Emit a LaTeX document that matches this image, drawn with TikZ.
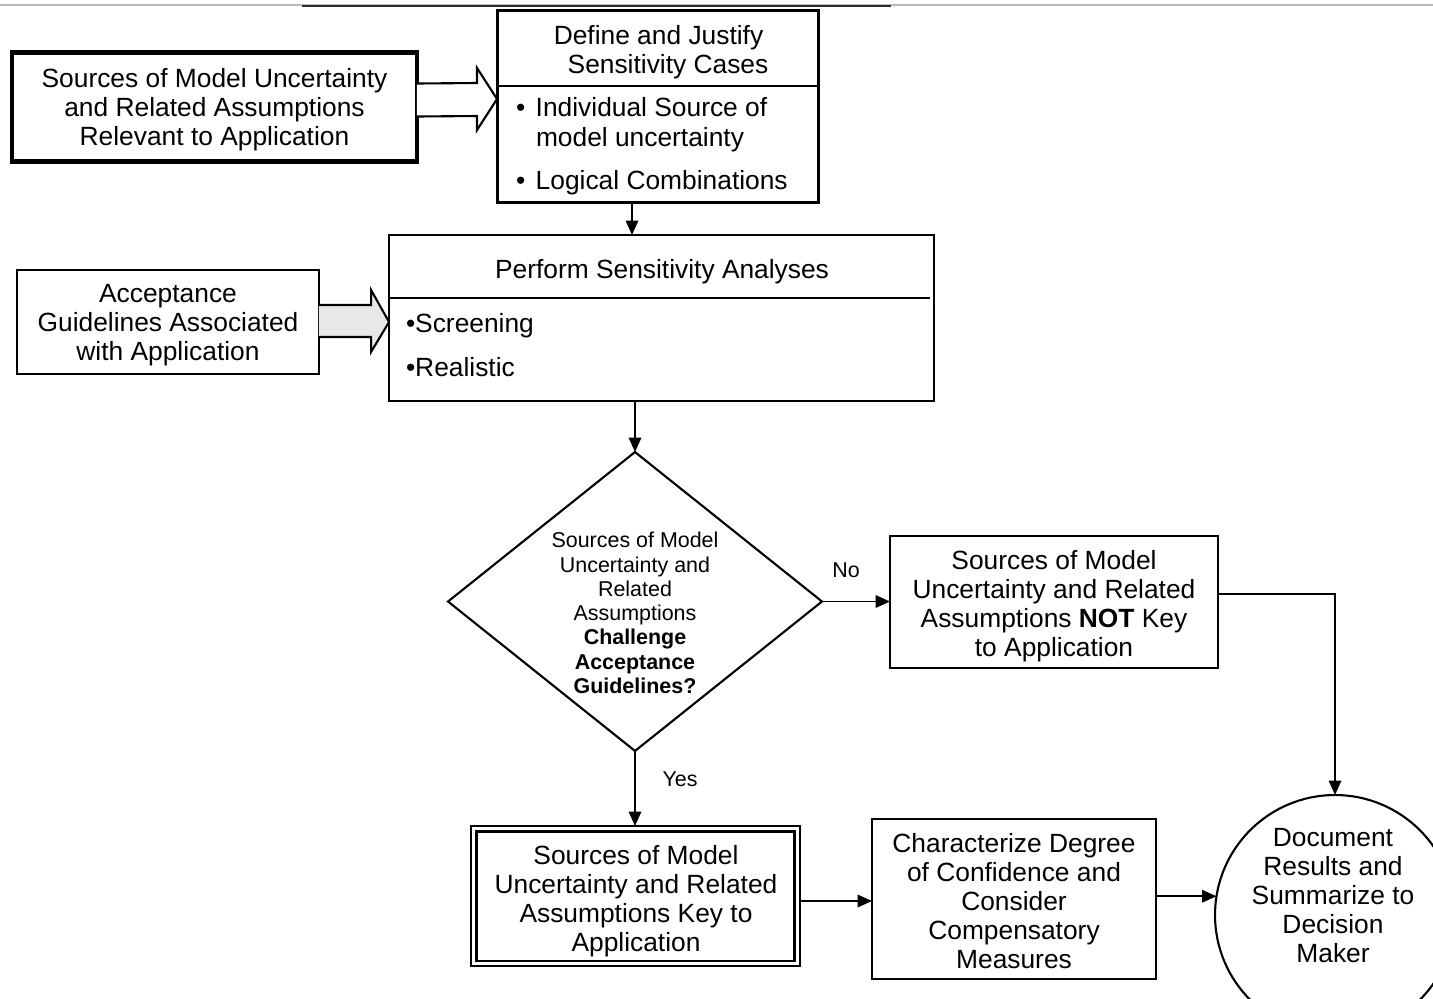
\documentclass[tikz,border=0pt]{standalone}
\usepackage{fontspec}
\setmainfont{Liberation Sans}
\usetikzlibrary{shapes.geometric,arrows.meta,calc}
\begin{document}
\begin{tikzpicture}[x=0.02cm,y=-0.02cm,
  every node/.style={inner sep=0pt, outer sep=0pt},
  txt/.style={font=\fontsize{15}{16.5}\selectfont, align=center, text depth=0pt},
  small/.style={font=\fontsize{12.2}{13.8}\selectfont, align=center},
  box/.style={draw, line width=1.15pt, rectangle},
  flow/.style={line width=1.05pt, -{Triangle[length=0.29cm,width=0.25cm]}},
  block/.style={line width=1.2pt, line join=miter},
]
\useasboundingbox (0,0) rectangle (1433,998);
\clip (0,0) rectangle (1433,998);

% rule along the top edge
\draw[gray!55, line width=1.1pt] (0,5) -- (1433,5);
\draw[gray!35!black, line width=1.1pt] (302,6) -- (891,6);

% inputs
\node[box, line width=2.3pt, minimum width=8.1cm, minimum height=2.18cm, txt] (src) at (214.5,107)
  {Sources of Model Uncertainty\\and Related Assumptions\\Relevant to Application};

\node[box, minimum width=6.04cm, minimum height=2.08cm, txt] (acc) at (168,322)
  {Acceptance\\Guidelines Associated\\with Application};

% sensitivity cases
\node[box, line width=1.7pt, minimum width=6.44cm, minimum height=3.86cm] (def) at (658,106.5) {};
\coordinate (bdiv) at (0,86);
\draw[line width=0.8pt] (def.west |- bdiv) -- (def.east |- bdiv);
\node[txt] (deft1) at (658.5,35) {Define and Justify};
\node[txt] (deft2) at (668,64) {Sensitivity Cases};
\node[txt, anchor=west] (ind1) at (516,107) {•\hspace{0.4em}Individual Source of};
\node[txt, anchor=west] (ind2) at (536,137) {model uncertainty};
\node[txt, anchor=west] (logc) at (516,180) {•\hspace{0.4em}Logical Combinations};

% sensitivity analyses
\node[box, minimum width=10.9cm, minimum height=3.32cm] (sens) at (661.5,318) {};
\coordinate (cdiv) at (930,298);
\draw[line width=0.8pt] (sens.west |- cdiv) -- (cdiv);
\node[txt] (senst) at (662,269) {Perform Sensitivity Analyses};
\node[txt, anchor=west] (scr) at (406,323) {•Screening};
\node[txt, anchor=west] (real) at (406,367) {•Realistic};

% block arrows into the two boxes
\draw[block, fill=white]
  ($(src.east)+(0,-23.5)$) -- ($(def.west)+(-20,-23.5)$) -- ($(def.west)+(-20,-38.5)$)
  -- ($(def.west)+(0,-7.5)$) -- ($(def.west)+(-20,23.5)$) -- ($(def.west)+(-20,9.5)$)
  -- ($(src.east)+(0,9.5)$);
\draw[block, fill=gray!18]
  ($(acc.east)+(0,-17)$) -- ($(sens.west |- acc.east)+(-18,-17)$) -- ($(sens.west |- acc.east)+(-18,-32)$)
  -- ($(sens.west |- acc.east)+(0,0)$) -- ($(sens.west |- acc.east)+(-18,30)$) -- ($(sens.west |- acc.east)+(-18,15)$)
  -- ($(acc.east)+(0,15)$);

% decision
\node[diamond, draw, line width=1.2pt, minimum width=7.48cm, minimum height=5.98cm] (q) at (635,601.5) {};
\node[small] (qt) at (635,613) {Sources of Model\\Uncertainty and\\Related\\Assumptions\\\textbf{Challenge}\\\textbf{Acceptance}\\\textbf{Guidelines?}};

% outcomes
\node[box, minimum width=6.56cm, minimum height=2.64cm] (notkey) at (1054,602) {};
\node[txt] (notkeyt) at (1054,603)
  {Sources of Model\\Uncertainty and Related\\Assumptions \textbf{NOT} Key\\to Application};

\node[draw, line width=0.8pt, minimum width=6.58cm, minimum height=2.8cm] (key) at (635.5,896) {};
\draw[line width=1.7pt] ([shift={(5,5)}]key.north west) rectangle ([shift={(-5,-5)}]key.south east);
\node[txt] (keyt) at (636,898)
  {Sources of Model\\Uncertainty and Related\\Assumptions Key to\\Application};

\node[box, minimum width=5.68cm, minimum height=3.2cm] (char) at (1014,899) {};
\node[txt] (chart) at (1014,901)
  {Characterize Degree\\of Confidence and\\Consider\\Compensatory\\Measures};

\node[circle, draw, line width=1.2pt, minimum size=4.8cm] (doc) at (1335,915) {};
\node[txt] (doct) at (1333,895) {Document\\Results and\\Summarize to\\Decision\\Maker};

% connectors
\coordinate (bc) at ($(def.south)+(-26,0)$);
\draw[flow] (bc) -- (bc |- sens.north);
\draw[flow] (q.north |- sens.south) -- (q.north);
\draw[flow] (q.east) -- (q.east -| notkey.west);
\node[small] (no) at (846,570) {No};
\draw[flow] (q.south) -- (q.south |- key.north);
\node[small] (yes) at (680,779) {Yes};
\coordinate (ed) at ($(notkey.east)+(0,-8)$);
\draw[flow] (ed) -| (doc.north);
\coordinate (fg) at ($(key.east)+(0,5)$);
\draw[flow] (fg) -- (fg -| char.west);
\draw[flow] (doc.171 -| char.east) -- (doc.171);
\end{tikzpicture}
\end{document}
